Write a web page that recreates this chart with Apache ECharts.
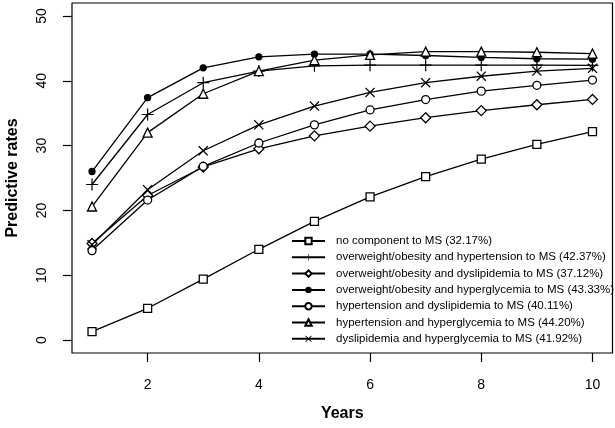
<!DOCTYPE html>
<html><head><meta charset="utf-8">
<script src="https://cdn.jsdelivr.net/npm/echarts@6/dist/echarts.min.js"></script>
<style>html,body{margin:0;padding:0;background:#fff}#c{width:615px;height:428px}</style>
</head><body><div id="c"></div>
<script>
const years = [1,2,3,4,5,6,7,8,9,10];
const xTicks = [2,4,6,8,10];
const yTicks = [0,10,20,30,40,50];
const seriesNames = [
  'no component to MS (32.17%)',
  'overweight/obesity and hypertension to MS (42.37%)',
  'overweight/obesity and dyslipidemia to MS (37.12%)',
  'overweight/obesity and hyperglycemia to MS (43.33%)',
  'hypertension and dyslipidemia to MS (40.11%)',
  'hypertension and hyperglycemia to MS (44.20%)',
  'dyslipidemia and hyperglycemia to MS (41.92%)'
];
const noComp = [1.3, 4.9, 9.4, 14.0, 18.3, 22.1, 25.2, 27.9, 30.2, 32.17];
const owHt   = [24.0, 34.8, 39.7, 41.5, 42.3, 42.4, 42.4, 42.4, 42.4, 42.37];
const owDl   = [14.9, 22.3, 26.7, 29.5, 31.5, 33.0, 34.3, 35.4, 36.3, 37.12];
const owHg   = [26.0, 37.4, 42.0, 43.7, 44.1, 44.1, 43.9, 43.6, 43.4, 43.33];
const htDl   = [13.8, 21.6, 26.8, 30.4, 33.2, 35.5, 37.1, 38.4, 39.3, 40.11];
const htHg   = [20.6, 32.0, 38.0, 41.5, 43.2, 44.0, 44.5, 44.5, 44.4, 44.20];
const dlHg   = [14.7, 23.2, 29.2, 33.2, 36.1, 38.2, 39.7, 40.7, 41.5, 41.92];

const PLUS = 'path://M-0.6,-6L0.6,-6L0.6,-0.6L6,-0.6L6,0.6L0.6,0.6L0.6,6L-0.6,6L-0.6,0.6L-6,0.6L-6,-0.6L-0.6,-0.6Z';
const CROSS = 'path://M3.8,-4.6L4.6,-3.8L0.85,0L4.6,3.8L3.8,4.6L0,0.85L-3.8,4.6L-4.6,3.8L-0.85,0L-4.6,-3.8L-3.8,-4.6L0,-0.85Z';

const styles = [
  {data: noComp, symbol: 'rect', size: 8, fill: '#fff'},
  {data: owHt, symbol: PLUS, size: 12, fill: '#000', noBorder: true},
  {data: owDl, symbol: 'diamond', size: 10, fill: '#fff'},
  {data: owHg, symbol: 'circle', size: 6, fill: '#000'},
  {data: htDl, symbol: 'circle', size: 8, fill: '#fff'},
  {data: htHg, symbol: 'triangle', size: 9, fill: '#fff'},
  {data: dlHg, symbol: CROSS, size: 10, fill: '#000', noBorder: true}
];

const FONT = '"Liberation Sans", Arial, Helvetica, sans-serif';
const chart = echarts.init(document.getElementById('c'), null, {renderer: 'canvas'});
chart.setOption({
  animation: false,
  backgroundColor: '#fff',
  grid: {left: 72, right: 2.5, top: 3, bottom: 75, show: true, borderColor: '#000', borderWidth: 1.2, backgroundColor: 'transparent', containLabel: false, outerBoundsMode: 'none'},
  xAxis: {
    type: 'value', min: 0.64, max: 10.36,
    name: 'Years', nameLocation: 'middle', nameGap: 53,
    nameTextStyle: {fontFamily: FONT, fontWeight: 'bold', fontSize: 16, color: '#000'},
    axisLine: {show: false, onZero: false},
    axisTick: {show: true, length: 9, customValues: xTicks, lineStyle: {color: '#000', width: 1.2}},
    axisLabel: {customValues: xTicks, margin: 25, fontFamily: FONT, fontSize: 14, color: '#000'},
    splitLine: {show: false}
  },
  yAxis: {
    type: 'value', min: -2, max: 52,
    name: 'Predictive rates', nameLocation: 'middle', nameGap: 51,
    nameTextStyle: {fontFamily: FONT, fontWeight: 'bold', fontSize: 16, color: '#000'},
    axisLine: {show: false, onZero: false},
    axisTick: {show: true, length: 9, customValues: yTicks, lineStyle: {color: '#000', width: 1.2}},
    axisLabel: {customValues: yTicks, rotate: 90, margin: 23, fontFamily: FONT, fontSize: 14, color: '#000'},
    splitLine: {show: false}
  },
  legend: {
    orient: 'vertical', left: 286, top: 230,
    itemWidth: 33, itemHeight: 8, itemGap: 4.3,
    textStyle: {fontFamily: FONT, fontSize: 11.5, lineHeight: 12, color: '#000', padding: [0, 0, 0, 6]},
    data: seriesNames.map((n, i) => i === 3 ? {name: n, itemStyle: {borderWidth: 0}} : n)
  },
  series: styles.map((s, i) => ({
    name: seriesNames[i],
    type: 'line',
    data: years.map((y, k) => [y, s.data[k]]),
    symbol: s.symbol,
    symbolSize: s.size,
    showAllSymbol: true,
    lineStyle: {color: '#000', width: 1.3},
    itemStyle: {color: s.fill, borderColor: '#000', borderWidth: s.noBorder ? 0 : 1.3},
    emphasis: {disabled: true}
  }))
});
</script></body></html>
